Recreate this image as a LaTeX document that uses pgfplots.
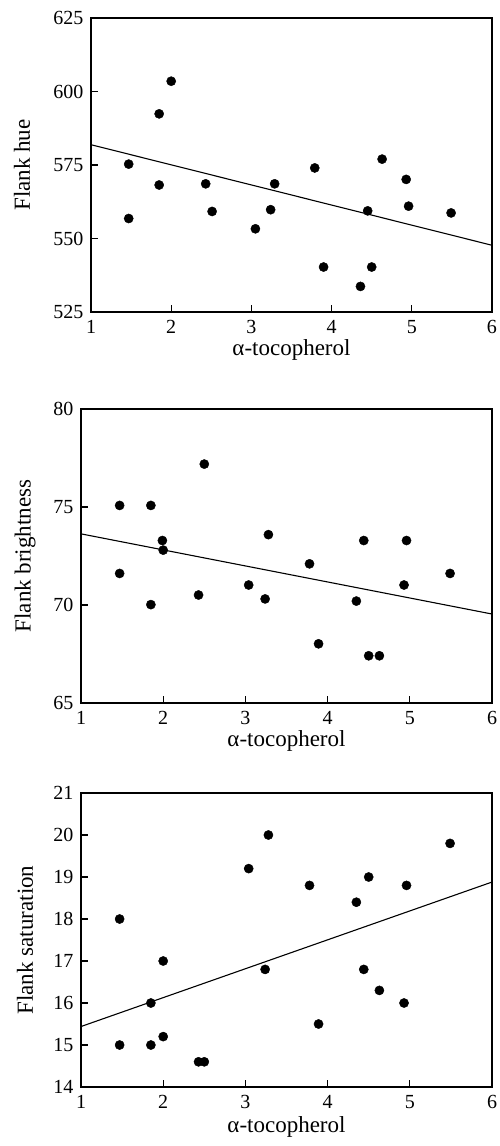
\documentclass[border=0pt]{standalone}
\usepackage{fontspec}
\setmainfont{Liberation Serif}
\usepackage{pgfplots}
\pgfplotsset{compat=1.18}
\pgfplotsset{myax/.style={
  scale only axis, height=294pt, xmin=1, xmax=6, xtick={1,2,3,4,5,6},
  tick align=inside, xtick pos=bottom, ytick pos=left, major tick length=7pt,
  axis line style={line width=1.2pt},
  every tick/.style={line width=1.2pt, black},
  tick label style={font=\fontsize{20}{22}\selectfont},
  xticklabel style={yshift=-5pt},
  yticklabel style={xshift=-4pt},
  label style={font=\fontsize{23}{26}\selectfont},
  /pgf/number format/assume math mode=true,
  xlabel={α-tocopherol},
  anchor=north west, clip=false}}
\begin{document}
\begin{tikzpicture}
\path[use as bounding box] (0pt,0pt) rectangle (499pt,-1146pt);
% Panel 1
\begin{axis}[myax, at={(91pt,-18pt)}, width=401pt, ymin=525, ymax=625,
  ytick={525,550,575,600,625}, ylabel={Flank hue},
  xlabel style={at={(axis description cs:0.5,-0.129)}, anchor=center},
  ylabel style={at={(axis description cs:-0.172,0.5)}, anchor=center}]
\addplot[only marks, mark=*, mark size=4.6pt, black] coordinates {
(1.47,575.3) (1.47,556.8) (1.85,592.4) (1.85,568.2) (2.00,603.5)
(2.43,568.6) (2.51,559.2) (3.05,553.3) (3.24,559.8) (3.29,568.6)
(3.79,574.0) (3.90,540.3) (4.36,533.7) (4.45,559.4) (4.50,540.3)
(4.63,577.0) (4.93,570.1) (4.96,561.0) (5.49,558.7)};
\addplot[black, line width=1.1pt] coordinates {(1,581.9) (6,547.7)};
\end{axis}
% Panel 2
\begin{axis}[myax, at={(81pt,-409pt)}, width=411pt, ymin=65, ymax=80,
  ytick={65,70,75,80}, ylabel={Flank brightness},
  xlabel style={at={(axis description cs:0.5,-0.129)}, anchor=center},
  ylabel style={at={(axis description cs:-0.136,0.5)}, anchor=center}]
\addplot[only marks, mark=*, mark size=4.6pt, black] coordinates {
(1.47,75.08) (1.47,71.61) (1.85,75.08) (1.85,70.02) (1.99,73.29)
(2.00,72.80) (2.43,70.51) (2.50,77.19) (3.04,71.02) (3.24,70.31)
(3.28,73.59) (3.78,72.10) (3.89,68.02) (4.35,70.20) (4.44,73.29)
(4.50,67.41) (4.63,67.41) (4.93,71.02) (4.96,73.29) (5.49,71.61)};
\addplot[black, line width=1.1pt] coordinates {(1,73.63) (6,69.54)};
\end{axis}
% Panel 3
\begin{axis}[myax, at={(81pt,-793pt)}, width=411pt, ymin=14, ymax=21,
  ytick={14,15,16,17,18,19,20,21}, ylabel={Flank saturation},
  xlabel style={at={(axis description cs:0.5,-0.135)}, anchor=center},
  ylabel style={at={(axis description cs:-0.136,0.5)}, anchor=center}]
\addplot[only marks, mark=*, mark size=4.6pt, black] coordinates {
(1.47,18.0) (1.47,15.0) (1.85,16.0) (1.85,15.0) (2.00,17.0)
(2.00,15.2) (2.43,14.6) (2.50,14.6) (3.04,19.2) (3.24,16.8)
(3.28,20.0) (3.78,18.8) (3.89,15.5) (4.35,18.4) (4.44,16.8)
(4.50,19.0) (4.63,16.3) (4.93,16.0) (4.96,18.8) (5.49,19.8)};
\addplot[black, line width=1.1pt] coordinates {(1,15.44) (6,18.88)};
\end{axis}
\end{tikzpicture}
\end{document}
